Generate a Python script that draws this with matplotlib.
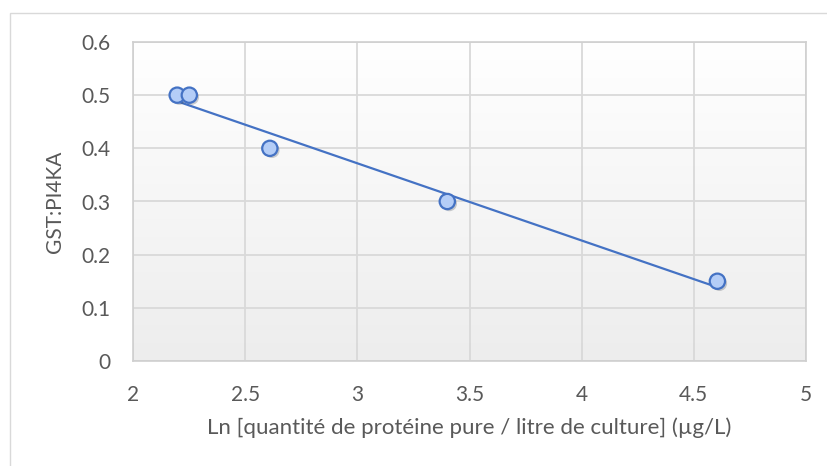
import numpy as np
import matplotlib
matplotlib.use("Agg")
import matplotlib.pyplot as plt
import matplotlib.patheffects as pe
from matplotlib.patches import Rectangle

# ln de la quantité de protéine pure (µg/L) vs ratio GST:PI4KA
ln_qty = [2.197, 2.251, 2.61, 3.401, 4.605]
ratio = [0.5, 0.5, 0.4, 0.3, 0.15]
x_ticks = [2, 2.5, 3, 3.5, 4, 4.5, 5]
y_ticks = [0, 0.1, 0.2, 0.3, 0.4, 0.5, 0.6]

plt.rcParams["font.family"] = ["Lato", "DejaVu Sans"]
TXT = "#595959"
BLUE = "#4472c4"

fig = plt.figure(figsize=(8.27, 4.66), dpi=100)
# cadre du graphique (seuls les bords gauche et haut sont dans l'image)
fig.patches.append(Rectangle((10 / 827, -0.05), 1.0, 1 - 13 / 466 + 0.05,
                             transform=fig.transFigure, fill=False,
                             ec="#d9d9d9", lw=1.0))

ax = fig.add_axes([133 / 827, 105 / 466, 673 / 827, 319 / 466])
ax.set_xlim(2, 5)
ax.set_ylim(0, 0.6)

# fond en dégradé vertical
grad = np.linspace(0, 1, 256).reshape(-1, 1)
ax.imshow(grad, extent=[0, 1, 0, 1], transform=ax.transAxes, aspect="auto",
          cmap=matplotlib.colors.LinearSegmentedColormap.from_list(
              "bg", ["#ededed", "#ffffff"]), origin="lower", zorder=0)

ax.set_xticks(x_ticks)
ax.set_yticks(y_ticks)
ax.set_xticklabels([f"{v:g}" for v in x_ticks])
ax.set_yticklabels([f"{v:g}" for v in y_ticks])
ax.tick_params(length=0, labelsize=15, colors=TXT, pad=17)
ax.tick_params(axis="y", pad=16)
ax.grid(True, color="#d9d9d9", lw=1.3, zorder=1)
ax.set_axisbelow(True)
for s in ax.spines.values():
    s.set_color("#cfcfcf")
    s.set_linewidth(1.2)

# droite de tendance linéaire
slope, icpt = np.polyfit(ln_qty, ratio, 1)
xs = np.array([min(ln_qty), max(ln_qty)])
ax.plot(xs, slope * xs + icpt, color=BLUE, lw=1.6, zorder=3)

ax.plot(ln_qty, ratio, "o", ms=11, mfc="#b4cdf7", mec=BLUE, mew=1.6, zorder=4,
        path_effects=[pe.SimplePatchShadow(offset=(1.5, -1.5), alpha=0.25),
                      pe.Normal()])

ax.set_xlabel("Ln [quantité de protéine pure / litre de culture] (µg/L)",
              fontsize=16, color=TXT, labelpad=9)
ax.set_ylabel("GST:PI4KA", fontsize=15, color=TXT, labelpad=12)

fig.savefig("out.png", dpi=100)
